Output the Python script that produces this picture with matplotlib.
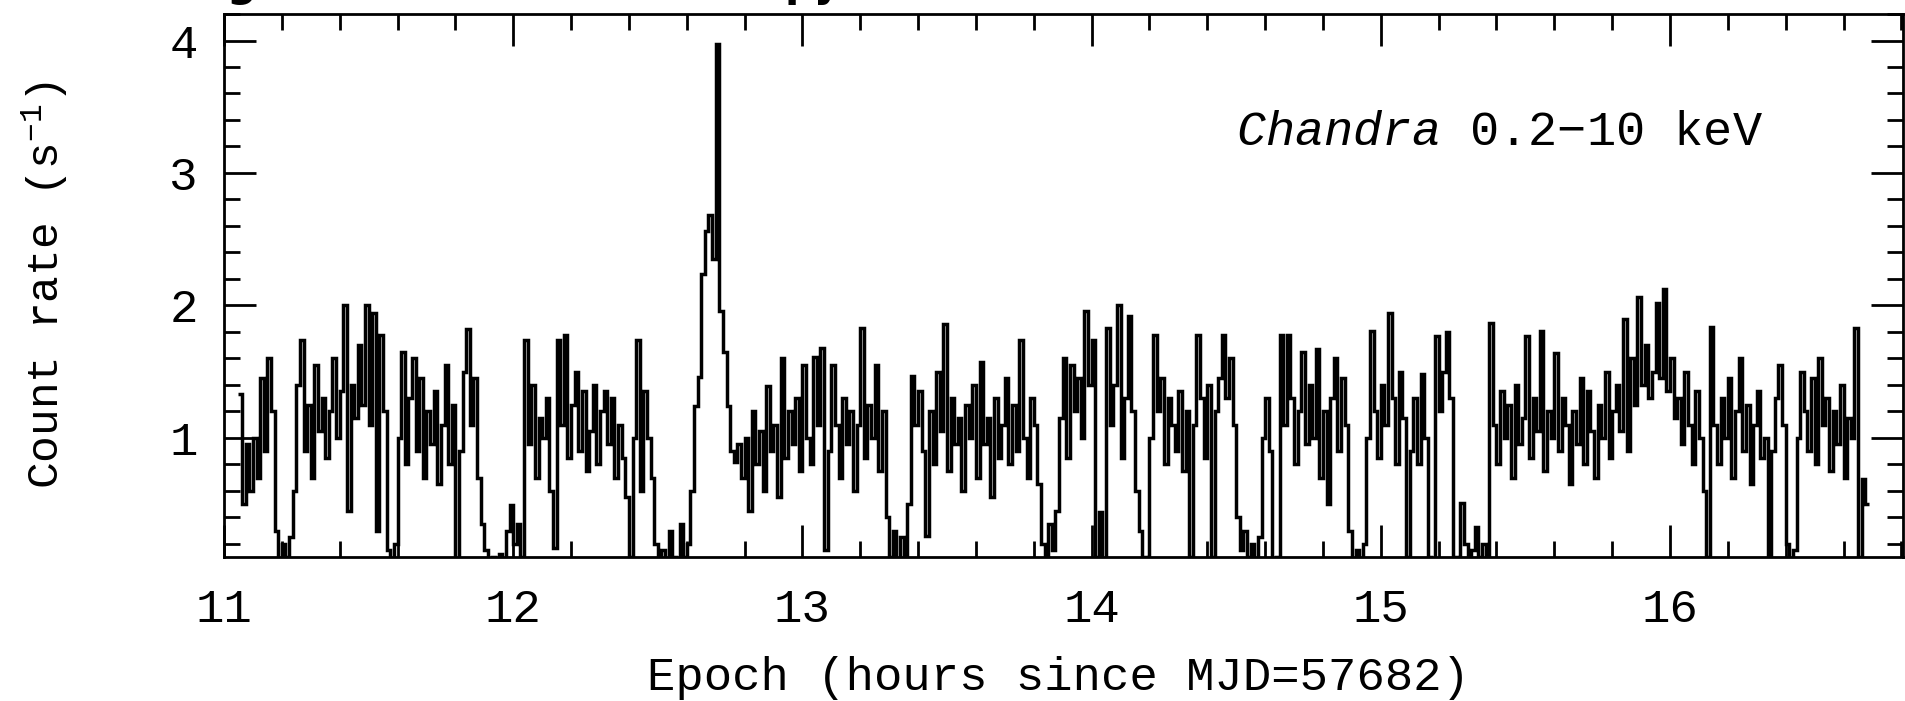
import matplotlib
matplotlib.use('Agg')
import matplotlib.pyplot as plt
import numpy as np
from matplotlib.ticker import MultipleLocator

# light curve, binned count rate (s^-1), bins of 0.0125 h starting at 11.05 h
bin_start = 11.05
bin_width = 0.0125

rate_part1 = [1.33, 0.5, 0.95, 0.6, 1.0, 0.7, 1.45, 0.9, 1.6, 1.2,
              0.3, 0.05, 0.2, 0.1, 0.25,
              0.6, 1.4, 1.74, 0.9, 1.25, 0.7, 1.55, 1.05, 1.3, 0.85, 1.2, 1.6, 1.0,
              1.35, 2.0, 0.45, 1.4, 1.15, 1.7, 1.25, 2.0, 1.1, 1.94, 0.3, 1.78, 1.2,
              0.15, 0.05, 0.2,
              1.0, 1.65, 0.8, 1.3, 1.6, 0.9, 1.45, 0.7, 1.2, 0.95, 1.35, 0.65, 1.1,
              1.55, 0.8, 1.25,
              0.05,
              0.9, 1.5, 1.82, 1.1, 1.45, 0.7,
              0.35, 0.15, 0.05, 0.1, 0.0, 0.12, 0.05, 0.3, 0.49, 0.2, 0.35, 0.1]
rate_part2 = [1.74, 0.95, 1.4, 0.7, 1.15, 1.0, 1.3, 0.6, 0.17, 1.74, 1.1, 1.78, 0.85,
              1.25, 1.5, 0.9, 1.35, 0.75, 1.05, 1.4, 0.8, 1.2, 1.35, 0.95, 1.3, 0.7,
              1.1, 0.85, 0.55,
              0.1,
              1.0, 1.74, 0.6, 1.35, 1.0, 0.7,
              0.2, 0.05, 0.15, 0.0, 0.3, 0.1, 0.05, 0.35, 0.1, 0.2, 0.6,
              1.24, 1.46, 2.24, 2.56, 2.68, 2.35, 3.97,
              1.96, 1.65, 1.24, 0.9, 0.82, 0.95,
              0.7, 1.0, 0.45, 1.2, 0.8, 1.05, 0.6, 1.39, 0.9, 1.1, 0.55, 1.6, 0.85,
              1.2, 0.95, 1.3, 0.75, 1.55, 1.0, 0.8, 1.61, 1.1, 1.68,
              0.15]
rate_part3 = [0.9, 1.55, 1.1, 0.7, 1.3, 0.95, 1.2, 0.6, 1.1, 1.83, 0.85, 1.25, 1.0,
              1.55, 0.75, 1.2,
              0.4, 0.1, 0.3, 0.05, 0.25, 0.1, 0.5,
              1.47, 1.1, 1.35, 0.9, 0.26, 1.2, 0.8, 1.5, 1.05, 1.86, 0.75, 1.3, 0.95,
              1.15, 0.6, 1.25, 1.0, 1.4, 0.7, 1.57, 0.95, 1.15, 0.55, 1.3, 0.85, 1.1,
              1.45, 0.8, 1.25, 0.9, 1.74, 1.0, 0.7, 1.3, 1.1, 0.65,
              0.2, 0.05, 0.35, 0.15, 0.45,
              1.15, 1.6, 0.85, 1.55, 1.2, 1.45, 1.0, 1.96, 1.4, 1.74,
              0.1, 0.44, 0.05]
rate_part4 = [1.83, 1.1, 1.4, 2.0, 0.85, 1.3, 1.92, 1.2,
              0.6, 0.3, 0.1, 0.05,
              1.0, 1.78, 1.2, 1.45, 0.8, 1.3, 1.1, 0.9, 1.35, 0.75, 1.2,
              0.1,
              1.1, 1.78, 1.3, 0.85, 1.4,
              0.1,
              1.2, 1.45, 1.78, 1.3, 1.6, 1.1,
              0.4, 0.15, 0.3, 0.1, 0.2, 0.05, 0.25,
              1.0, 1.3, 0.9,
              0.05, 0.1,
              1.78, 1.1, 1.78, 1.3, 0.8, 1.2, 1.65, 0.95, 1.4, 1.0, 1.67, 0.7, 1.2,
              0.5, 1.3, 1.6, 0.9, 1.45, 1.1,
              0.3, 0.05, 0.15, 0.05, 0.2]
rate_part5 = [1.0, 1.81, 1.2, 0.85, 1.4, 1.1, 1.94, 1.3, 0.8, 1.5, 1.15,
              0.1,
              0.9, 1.3, 0.8, 1.48, 1.0,
              0.1, 0.05,
              1.77, 1.2, 1.5, 1.8, 1.3,
              0.1, 0.05, 0.51, 0.2, 0.0, 0.15, 0.33, 0.1, 0.2, 0.05,
              1.87, 1.1, 0.8, 1.35, 1.0, 1.25, 0.7, 1.4, 0.95, 1.15, 1.77, 0.85, 1.3,
              1.05, 1.81, 0.75, 1.2, 1.0, 1.64, 0.9, 1.3, 1.1, 0.65, 1.2, 0.95, 1.45,
              0.8, 1.35, 1.05, 0.7, 1.25, 1.0, 1.5, 0.85, 1.2, 1.4, 1.05, 1.9, 0.9,
              1.6, 1.25, 2.06, 1.4, 1.7, 1.3, 1.5, 2.02, 1.45, 2.12, 1.35, 1.6, 1.15,
              1.3, 0.95, 1.5, 1.1, 0.8, 1.35, 1.0, 0.6]
rate_part6 = [0.1,
              1.84, 1.1, 0.8, 1.3, 1.0, 1.45, 0.7, 1.2, 1.6, 0.9, 1.25, 0.65, 1.1,
              1.35, 0.85, 1.0,
              0.1,
              0.9, 1.3, 1.55, 1.1,
              0.2, 0.05, 0.15,
              1.0, 1.5, 1.2, 0.9, 1.45, 0.8, 1.6, 1.1, 1.3, 0.75, 1.2, 0.95, 1.4,
              0.7, 1.15, 1.0, 1.83,
              0.1,
              0.69, 0.5]

rate = np.concatenate([rate_part1, rate_part2, rate_part3,
                       rate_part4, rate_part5, rate_part6])
edges = bin_start + bin_width*np.arange(len(rate) + 1)

plt.rcParams['font.family'] = ['Liberation Mono', 'DejaVu Sans']
plt.rcParams['mathtext.fontset'] = 'custom'
plt.rcParams['mathtext.rm'] = 'Liberation Mono'
plt.rcParams['mathtext.it'] = 'Liberation Mono:italic'

fig = plt.figure(figsize=(19.05, 7.01), dpi=100)
ax = fig.add_axes([0.1176, 0.2054, 0.8814, 0.7746])

ax.stairs(rate, edges, baseline=None, color='k', lw=2.5)

ax.set_xlim(11, 16.806)
ax.set_ylim(0.1, 4.2)
ax.xaxis.set_major_locator(MultipleLocator(1))
ax.xaxis.set_minor_locator(MultipleLocator(0.2))
ax.yaxis.set_major_locator(MultipleLocator(1))
ax.yaxis.set_minor_locator(MultipleLocator(0.2))
ax.tick_params(which='both', direction='in', top=True, right=True, width=2, colors='k')
ax.tick_params(which='major', length=23, labelsize=34)
ax.tick_params(which='minor', length=11.5)
ax.tick_params(axis='y', pad=19)
ax.tick_params(axis='x', pad=22)
for s in ax.spines.values():
    s.set_linewidth(2)

fig.text(0.0236, 0.593, r'Count rate (s$^{-1}$)', rotation=90,
         ha='center', va='center', fontsize=32)
fig.text(0.5554, 1 - 690/701, 'Epoch (hours since MJD=57682)',
         ha='center', va='baseline', fontsize=34)
fig.text(0.6488, 1 - 145/701, r'$Chandra$ 0.2−10 keV',
         ha='left', va='baseline', fontsize=35)

# descenders of the cropped heading line above the panel
fig.text(226/1905, 1 + 4/701, 'g', family='DejaVu Sans', weight='bold',
         fontsize=30, va='baseline')
fig.text(785/1905, 1 + 4/701, 'py', family='DejaVu Sans', weight='bold',
         fontsize=30, va='baseline')

fig.savefig('out.png', dpi=100)
